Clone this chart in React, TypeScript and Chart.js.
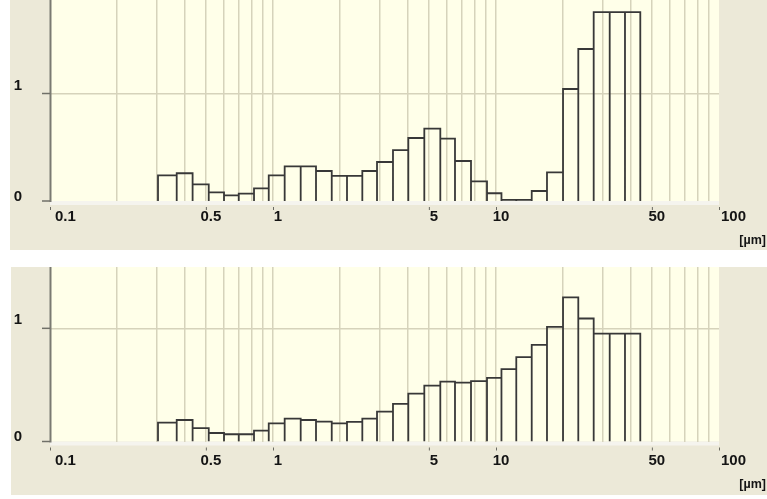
import React, { useEffect, useRef } from "react";
import { Chart, registerables } from "chart.js";

Chart.register(...registerables);

// Bin edges of the particle-size histogram (µm)
const binEdges = [
  0.305, 0.37, 0.436, 0.515, 0.603, 0.702, 0.822, 0.957, 1.128, 1.331, 1.559,
  1.834, 2.147, 2.515, 2.927, 3.452, 4.044, 4.77, 5.627, 6.548, 7.725, 9.113,
  10.58, 12.33, 14.46, 16.93, 19.98, 23.39, 27.42, 32.35, 37.88, 44.37,
];

// Upper panel: frequency per bin
const upperValues = [
  0.239, 0.258, 0.155, 0.081, 0.053, 0.068, 0.118, 0.239, 0.323, 0.323, 0.279,
  0.233, 0.233, 0.279, 0.363, 0.474, 0.586, 0.673, 0.58, 0.372, 0.183, 0.072,
  0.01, 0.01, 0.093, 0.267, 1.042, 1.414, 1.758, 1.758, 1.758,
];

// Lower panel: frequency per bin
const lowerValues = [
  0.166, 0.19, 0.119, 0.075, 0.064, 0.064, 0.096, 0.161, 0.202, 0.19, 0.175,
  0.161, 0.173, 0.202, 0.264, 0.332, 0.423, 0.494, 0.529, 0.52, 0.533, 0.562,
  0.639, 0.745, 0.854, 1.013, 1.273, 1.087, 0.954, 0.954, 0.954,
];

// Vertical grid positions (log axis)
const gridValues = [
  0.2, 0.3, 0.4, 0.5, 0.6, 0.7, 0.8, 0.9, 1, 2, 3, 4, 5, 6, 7, 8, 9, 10, 20,
  30, 40, 50, 60, 70, 80, 90,
];

const xTickValues = [0.1, 0.5, 1, 5, 10, 50, 100];
const xTickLabels = ["0.1", "0.5", "1", "5", "10", "50", "100"];
const yTickValues = [0, 1];
const yTickLabels = ["0", "1"];
const unitLabel = "[µm]";

const PANEL_BG = "#ECE9D8";
const PLOT_BG = "#FFFFE9";
const GRID = "#D6D3BB";
const BAR = "#383838";
const FONT = 'bold 15px "Liberation Sans", Arial, sans-serif';
const FONT_SMALL = 'bold 12.5px "Liberation Sans", Arial, sans-serif';

function outlinePoints(values: number[]) {
  const pts: { x: number; y: number }[] = [];
  values.forEach((v, i) => {
    pts.push({ x: binEdges[i], y: 0 });
    pts.push({ x: binEdges[i], y: v });
    pts.push({ x: binEdges[i + 1], y: v });
    pts.push({ x: binEdges[i + 1], y: 0 });
  });
  return pts;
}

type PanelProps = {
  values: number[];
  yMax: number;
  left: number;
  top: number;
  width: number;
  height: number;
  padding: { left: number; right: number; top: number; bottom: number };
  labelDy: number;
  unitDy: number;
};

function Panel(props: PanelProps) {
  const ref = useRef<HTMLCanvasElement | null>(null);

  useEffect(() => {
    const canvas = ref.current;
    if (!canvas) return;

    const decor = {
      id: "decor",
      beforeDraw(chart: any) {
        const { ctx, chartArea } = chart;
        ctx.save();
        ctx.fillStyle = PLOT_BG;
        ctx.fillRect(
          chartArea.left,
          chartArea.top,
          chartArea.right - chartArea.left,
          chartArea.bottom - chartArea.top
        );
        ctx.fillStyle = "#F5F4EE";
        ctx.fillRect(chartArea.left, chartArea.bottom, chartArea.right - chartArea.left, 4);
        ctx.restore();
      },
      afterDraw(chart: any) {
        const { ctx, chartArea, scales } = chart;
        const xs = scales.x;
        const ys = scales.y;
        ctx.save();
        // y axis line
        ctx.strokeStyle = "#7a7a72";
        ctx.lineWidth = 2;
        ctx.beginPath();
        ctx.moveTo(chartArea.left + 0.5, chartArea.top);
        ctx.lineTo(chartArea.left + 0.5, chartArea.bottom + 1);
        ctx.stroke();
        // y ticks + labels
        ctx.font = FONT;
        ctx.fillStyle = "#141414";
        ctx.textBaseline = "middle";
        ctx.textAlign = "center";
        yTickValues.forEach((v, i) => {
          const py = ys.getPixelForValue(v);
          ctx.strokeStyle = "#707068";
          ctx.lineWidth = 1.5;
          ctx.beginPath();
          ctx.moveTo(chartArea.left - 8, py);
          ctx.lineTo(chartArea.left, py);
          ctx.stroke();
          const dy = v === 0 ? -4.5 : -8;
          ctx.fillText(yTickLabels[i], chartArea.left - 32, py + dy);
        });
        // x ticks + labels
        xTickValues.forEach((v, i) => {
          const px = xs.getPixelForValue(v);
          ctx.strokeStyle = "#6a6a62";
          ctx.lineWidth = 1;
          ctx.beginPath();
          ctx.moveTo(px + 0.5, chartArea.bottom + 6);
          ctx.lineTo(px + 0.5, chartArea.bottom + 9);
          ctx.stroke();
          const last = i === xTickValues.length - 1;
          if (i === 0) {
            ctx.textAlign = "left";
            ctx.fillText(xTickLabels[i], px + 5, chartArea.bottom + props.labelDy);
          } else if (last) {
            ctx.textAlign = "left";
            ctx.fillText(xTickLabels[i], px + 2, chartArea.bottom + props.labelDy);
          } else {
            ctx.textAlign = "center";
            ctx.fillText(xTickLabels[i], px + 5, chartArea.bottom + props.labelDy);
          }
        });
        // unit label
        ctx.font = FONT_SMALL;
        ctx.textAlign = "right";
        ctx.fillText(unitLabel, chart.width - 1, chartArea.bottom + props.unitDy);
        ctx.restore();
      },
    };

    const chart = new Chart(canvas, {
      type: "line",
      data: {
        datasets: [
          {
            data: outlinePoints(props.values),
            borderColor: BAR,
            borderWidth: 1.8,
            pointRadius: 0,
            fill: false,
            tension: 0,
          },
        ],
      },
      options: {
        animation: false,
        responsive: false,
        devicePixelRatio: 1,
        layout: { padding: props.padding },
        plugins: { legend: { display: false }, tooltip: { enabled: false } },
        events: [],
        scales: {
          x: {
            type: "logarithmic",
            min: 0.1,
            max: 100,
            afterBuildTicks: (s: any) => {
              s.ticks = gridValues.map((v) => ({ value: v }));
            },
            afterFit: (s: any) => {
              s.height = 0;
            },
            ticks: { display: false },
            grid: { color: GRID, lineWidth: 1.5, drawTicks: false },
            border: { display: false },
          },
          y: {
            type: "linear",
            min: 0,
            max: props.yMax,
            afterBuildTicks: (s: any) => {
              s.ticks = [{ value: 1 }];
            },
            afterFit: (s: any) => {
              s.width = 0;
            },
            ticks: { display: false },
            grid: { color: GRID, lineWidth: 1.5, drawTicks: false },
            border: { display: false },
          },
        },
      },
      plugins: [decor],
    } as any);

    return () => chart.destroy();
  }, []);

  return (
    <canvas
      ref={ref}
      width={props.width}
      height={props.height}
      style={{
        position: "absolute",
        left: props.left,
        top: props.top,
        width: props.width,
        height: props.height,
        background: PANEL_BG,
      }}
    />
  );
}

export default function App() {
  return (
    <div
      style={{
        position: "absolute",
        left: 0,
        top: 0,
        width: 767,
        height: 499,
        background: "#ffffff",
        overflow: "hidden",
      }}
    >
      <Panel
        values={upperValues}
        yMax={1.87}
        left={10}
        top={0}
        width={757}
        height={250}
        padding={{ left: 40, right: 48, top: 0, bottom: 49 }}
        labelDy={16}
        unitDy={40}
      />
      <Panel
        values={lowerValues}
        yMax={1.542}
        left={11}
        top={267}
        width={756}
        height={228}
        padding={{ left: 39, right: 48, top: 0, bottom: 53.5 }}
        labelDy={19}
        unitDy={43}
      />
    </div>
  );
}
